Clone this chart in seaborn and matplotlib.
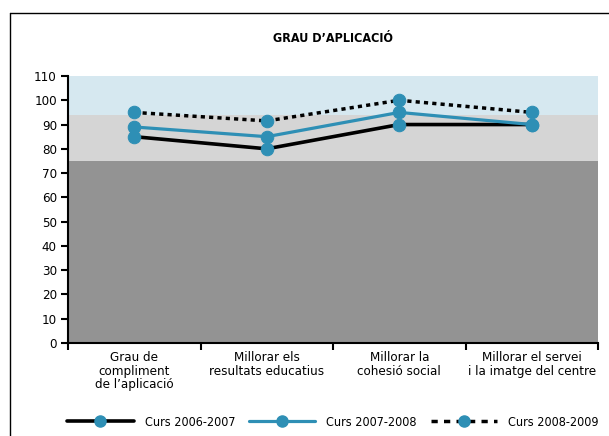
import numpy as np
import pandas as pd
import seaborn as sns
import matplotlib.pyplot as plt
from matplotlib.lines import Line2D

# Data
categories = ["Grau de\ncompliment\nde l\u2019aplicació",
              "Millorar els\nresultats educatius",
              "Millorar la\ncohesió social",
              "Millorar el servei\ni la imatge del centre"]
curs_2006 = [85, 80, 90, 90]
curs_2007 = [89, 85, 95, 90]
curs_2008 = [95, 91.5, 100, 95]
series_names = ["Curs 2006-2007", "Curs 2007-2008", "Curs 2008-2009"]

# background bands
band_edges = [0, 75, 94, 110]
band_colors = ["#939393", "#d5d5d5", "#d6e8f0"]

blue = "#2e8fb5"

sns.set_style("white")
plt.rcParams['font.family'] = ['Liberation Sans Narrow', 'DejaVu Sans']
plt.rcParams['font.stretch'] = 'condensed'
plt.rcParams['text.color'] = 'black'
plt.rcParams['xtick.color'] = 'black'
plt.rcParams['ytick.color'] = 'black'

fig = plt.figure(figsize=(6.09, 4.36), dpi=100)
ax = fig.add_axes([68 / 609, 93 / 436, 530 / 609, 267 / 436])

for lo, hi, c in zip(band_edges[:-1], band_edges[1:], band_colors):
    ax.axhspan(lo, hi, color=c, lw=0, zorder=0)

x = np.arange(len(categories))
df = pd.DataFrame({"x": np.tile(x, 3),
                   "valor": curs_2006 + curs_2007 + curs_2008,
                   "curs": np.repeat(series_names, len(categories))})

styles = {
    "Curs 2006-2007": dict(color="black", lw=2.6, ls="-"),
    "Curs 2007-2008": dict(color=blue, lw=2.3, ls="-"),
    "Curs 2008-2009": dict(color="black", lw=2.5, ls=(0, (1.2, 1.2))),
}
for name in series_names:
    sub = df[df["curs"] == name]
    st = styles[name]
    sns.lineplot(data=sub, x="x", y="valor", ax=ax, color=st["color"],
                 lw=st["lw"], ls=st["ls"], marker="o", markersize=9,
                 markerfacecolor=blue, markeredgecolor=blue, label=name,
                 legend=False, zorder=3)

ax.set_xlim(-0.5, 3.5)
ax.set_ylim(0, 110)
ax.set_yticks(range(0, 111, 10))
ax.set_xticks(x)
ax.set_xticklabels(categories, fontsize=9.5, linespacing=1.05)
ax.set_xticks(np.arange(-0.5, 3.6, 1), minor=True)
ax.tick_params(axis="x", which="major", length=0, pad=6)
ax.tick_params(axis="x", which="minor", length=5, width=1.5, direction="out",
               color="black", bottom=True)
ax.tick_params(axis="y", length=5, width=1.5, direction="out", color="black",
               labelsize=9.5, left=True, pad=3)
ax.set_xlabel("")
ax.set_ylabel("")
for s in ["top", "right"]:
    ax.spines[s].set_visible(False)
for s in ["left", "bottom"]:
    ax.spines[s].set_color("black")
    ax.spines[s].set_linewidth(1.5)

fig.text(333 / 609, 1 - 38 / 436, "GRAU D\u2019APLICACIÓ", ha="center",
         va="center", fontsize=9, fontweight="bold")

# legend
handles = []
for name in series_names:
    st = styles[name]
    ls = st["ls"] if name != "Curs 2008-2009" else (0, (1.8, 1.8))
    handles.append(Line2D([], [], color=st["color"], lw=st["lw"], ls=ls,
                          marker="o", markersize=8, markerfacecolor=blue,
                          markeredgecolor=blue))
fig.legend(handles, series_names, loc="center", ncol=3, frameon=False,
           bbox_to_anchor=(333 / 609, 1 - 422 / 436), handlelength=5.3,
           columnspacing=1.1, handletextpad=0.9, fontsize=9, numpoints=1)

# outer frame (left and top edges)
fig.add_artist(Line2D([10 / 609, 10 / 609], [0, 1 - 13 / 436], color="black",
                      lw=1, transform=fig.transFigure))
fig.add_artist(Line2D([10 / 609, 1], [1 - 13 / 436, 1 - 13 / 436],
                      color="black", lw=1, transform=fig.transFigure))

fig.savefig("out.png", dpi=100)
